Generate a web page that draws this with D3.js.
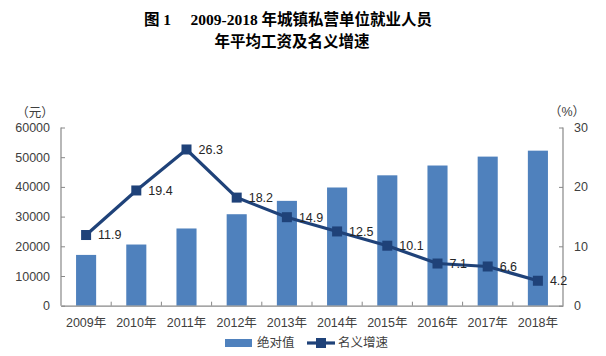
<!DOCTYPE html>
<html><head><meta charset="utf-8">
<script src="https://cdn.jsdelivr.net/npm/d3@7"></script>
<style>
body{margin:0;background:#fff;}
svg{display:block;}
</style></head>
<body><svg id="c" width="606" height="356"></svg>
<script>
const years = ["2009年","2010年","2011年","2012年","2013年","2014年","2015年","2016年","2017年","2018年"];
const absValues = [17100, 20600, 26000, 30800, 35300, 39800, 43900, 47200, 50200, 52200];
const growthRates = [11.9, 19.4, 26.3, 18.2, 14.9, 12.5, 10.1, 7.1, 6.6, 4.2];
const leftTicks = [0, 10000, 20000, 30000, 40000, 50000, 60000];
const rightTicks = [0, 10, 20, 30];
const titleLines = ["图 1　 2009-2018 年城镇私营单位就业人员", "年平均工资及名义增速"];
const legendLabels = ["绝对值", "名义增速"];

const svg = d3.select("#c");
const L = 61, R = 563, T = 127.5, B = 305.7;
const font = "'Liberation Sans', 'Noto Sans CJK SC', sans-serif";
const textColor = "#404040";
const axisColor = "#888";
const barColor = "#4f81bd";
const lineColor = "#1f4279";

const x = d3.scaleBand().domain(years).range([L, R]).paddingInner(0.6).paddingOuter(0.3);
const xb = d3.scaleBand().domain(years).range([L, R]);
const yL = d3.scaleLinear().domain([0, 60000]).range([B, T]);
const yR = d3.scaleLinear().domain([0, 30]).range([B, T]);

// title
svg.append("g").selectAll("text").data(titleLines).join("text")
  .attr("x", (d,i)=> i===0 ? 288 : 292).attr("y", (d,i)=> 25 + i*22)
  .attr("text-anchor","middle")
  .attr("font-family","'Liberation Serif', 'Noto Sans CJK SC', serif")
  .attr("font-weight","bold").attr("font-size", 15.5).attr("fill","#000")
  .text(d=>d);

// bars
svg.append("g").selectAll("rect").data(absValues).join("rect")
  .attr("x",(d,i)=>x(years[i])).attr("width",x.bandwidth())
  .attr("y",d=>yL(d)).attr("height",d=>B-yL(d))
  .attr("fill",barColor);

// left axis
const gL = svg.append("g").attr("transform",`translate(${L},0)`)
  .call(d3.axisLeft(yL).tickValues(leftTicks).tickSize(-4).tickPadding(11).tickFormat(d3.format("d")));
// right axis
const gR = svg.append("g").attr("transform",`translate(${R},0)`)
  .call(d3.axisRight(yR).tickValues(rightTicks).tickSize(-4).tickPadding(11).tickFormat(d3.format("d")));
// bottom axis with ticks at band boundaries
const gB = svg.append("g").attr("transform",`translate(0,${B})`)
  .call(d3.axisBottom(xb).tickSize(0).tickPadding(12));
gB.selectAll(".tick text").attr("dy","0.71em");
svg.append("g").selectAll("line").data(years.slice(1)).join("line")
  .attr("x1",d=>xb(d)).attr("x2",d=>xb(d)).attr("y1",B).attr("y2",B-4)
  .attr("stroke",axisColor);

[gL,gR,gB].forEach(g=>{
  g.select(".domain").attr("stroke",axisColor).attr("stroke-width",1.2);
  g.selectAll(".tick line").attr("stroke",axisColor);
  g.selectAll("text").attr("font-family",font).attr("font-size",12.5).attr("fill",textColor);
});
gL.select(".domain").attr("d",`M0,${T}V${B}`);
gR.select(".domain").attr("d",`M0,${T}V${B}`);

// unit labels
svg.append("text").attr("x",35).attr("y",117).attr("text-anchor","middle")
  .attr("font-family",font).attr("font-size",12.5).attr("fill",textColor).text("（元）");
svg.append("text").attr("x",567).attr("y",116).attr("text-anchor","middle")
  .attr("font-family",font).attr("font-size",12.5).attr("fill",textColor).text("（%）");

// line
const cx = (i)=> xb(years[i]) + xb.bandwidth()/2;
const line = d3.line().x((d,i)=>cx(i)).y(d=>yR(d));
svg.append("path").datum(growthRates).attr("d",line)
  .attr("fill","none").attr("stroke",lineColor).attr("stroke-width",3.2).attr("stroke-linejoin","round");
svg.append("g").selectAll("rect").data(growthRates).join("rect")
  .attr("x",(d,i)=>cx(i)-5).attr("y",d=>yR(d)-5).attr("width",10).attr("height",10)
  .attr("fill",lineColor);
svg.append("g").selectAll("text").data(growthRates).join("text")
  .attr("x",(d,i)=>cx(i)+12).attr("y",d=>yR(d)).attr("dy","0.35em")
  .attr("font-family",font).attr("font-size",12.5).attr("fill","#262626")
  .text(d=>d3.format(".1f")(d));

// legend
const lg = svg.append("g");
lg.append("rect").attr("x",225).attr("y",339).attr("width",27).attr("height",8).attr("fill",barColor);
lg.append("text").attr("x",257).attr("y",343).attr("dy","0.35em")
  .attr("font-family",font).attr("font-size",12.5).attr("fill",textColor).text(legendLabels[0]);
lg.append("line").attr("x1",307).attr("x2",335).attr("y1",343).attr("y2",343)
  .attr("stroke",lineColor).attr("stroke-width",3.2);
lg.append("rect").attr("x",316).attr("y",338).attr("width",10).attr("height",10).attr("fill",lineColor);
lg.append("text").attr("x",338).attr("y",343).attr("dy","0.35em")
  .attr("font-family",font).attr("font-size",12.5).attr("fill",textColor).text(legendLabels[1]);
</script></body></html>
